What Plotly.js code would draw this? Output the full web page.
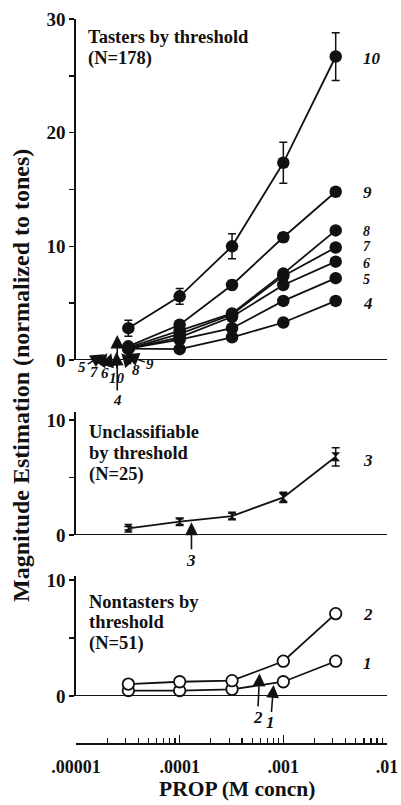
<!DOCTYPE html>
<html>
<head>
<meta charset="utf-8">
<script src="https://cdn.plot.ly/plotly-3.0.1.min.js"></script>
<style>html,body{margin:0;padding:0;background:#fff;}#chart{width:401px;height:805px;}</style>
</head>
<body>
<div id="chart"></div>
<script>
// ---- data ----
const conc = [3.2e-5, 1e-4, 3.2e-4, 1e-3, 3.2e-3];          // PROP molar concentrations
const xTickVals = [1e-5, 1e-4, 1e-3, 1e-2];
const xTickText = ['.00001', '.0001', '.001', '.01'];

// Tasters by threshold (N=178)
const g10 = [2.8, 5.6, 10.0, 17.35, 26.7];
const e10 = [0.7, 0.7, 1.1, 1.8, 2.1];
const g9  = [1.2, 3.1, 6.6, 10.8, 14.8];
const e9  = [0.2, 0.2, 0.4, 0.4, 0.2];
const g8  = [1.1, 2.6, 4.1, 7.6, 11.4];
const g7  = [1.0, 2.3, 4.0, 7.4, 9.9];
const g6  = [1.0, 2.0, 3.8, 6.6, 8.65];
const g5  = [1.0, 1.8, 2.8, 5.2, 7.2];
const g4  = [1.0, 0.95, 2.0, 3.3, 5.2];
const eSmall = [0.15, 0.2, 0.25, 0.3, 0.2];

// Unclassifiable by threshold (N=25)
const g3 = [0.58, 1.16, 1.65, 3.27, 6.8];
const e3 = [0.15, 0.25, 0.25, 0.45, 0.8];

// Nontasters by threshold (N=51)
const g2 = [1.03, 1.23, 1.32, 3.0, 7.1];
const e2 = [0.1, 0.1, 0.1, 0.2, 0.3];
const g1 = [0.46, 0.46, 0.58, 1.23, 3.0];
const e1 = [0.05, 0.05, 0.05, 0.1, 0.15];

// threshold arrows: group label, threshold concentration, arrow-head height
const topThrLabels = ['5', '7', '6', '10', '8', '9', '4'];
const topThrConc   = [1.87e-5, 2.0e-5, 2.19e-5, 2.45e-5, 2.74e-5, 2.99e-5, 2.5e-5];
const topThrHead   = [0.5, 0.6, 0.6, 0.7, 0.6, 0.5, 2.2];
const midThrLabels = ['3'];
const midThrConc   = [1.3e-4];
const midThrHead   = [1.1];
const botThrLabels = ['2', '1'];
const botThrConc   = [5.9e-4, 8.05e-4];
const botThrHead   = [1.95, 0.95];

// ---- drawing ----
const SERIF = "'Liberation Serif', 'Times New Roman', serif";
const black = '#111';
const L = 76, R = 14, T = 19, B = 62, W = 401, H = 805;
const PW = W - L - R, PH = H - T - B;
function px(x) { return (x - L) / PW; }
function py(y) { return (H - B - y) / PH; }

function tr(y, err, yaxis, marker) {
  const t = {
    x: conc, y: y, xaxis: 'x', yaxis: yaxis, type: 'scatter', mode: 'lines+markers',
    line: {color: black, width: 1.8}, marker: marker, cliponaxis: false, showlegend: false,
    hoverinfo: 'x+y'
  };
  if (err) t.error_y = {type: 'data', array: err, visible: true, color: black, thickness: 1.5, width: 4};
  return t;
}
const filled = {symbol: 'circle', size: 12.5, color: black};
const bow = {symbol: 'hourglass', size: 9, color: black};
const openFill = {symbol: 'circle', size: 11.5, color: '#fff', line: {width: 1.8, color: black}};

const data = [
  tr(g4, eSmall, 'y', filled), tr(g5, eSmall, 'y', filled), tr(g6, eSmall, 'y', filled),
  tr(g7, eSmall, 'y', filled), tr(g8, eSmall, 'y', filled), tr(g9, e9, 'y', filled),
  tr(g10, e10, 'y', filled),
  tr(g3, e3, 'y2', bow),
  tr(g1, e1, 'y3', openFill), tr(g2, e2, 'y3', openFill)
];

const ann = [];
function ptxt(text, x, y, opts) {
  ann.push(Object.assign({xref: 'paper', yref: 'paper', x: px(x), y: py(y), text: text, showarrow: false,
    xanchor: 'left', yanchor: 'middle', font: {family: SERIF, size: 18.5, color: black}}, opts || {}));
}
// panel titles
ptxt('<b>Tasters by threshold</b>', 86, 37);
ptxt('<b>(N=178)</b>', 86, 58);
ptxt('<b>Unclassifiable</b>', 87, 432);
ptxt('<b>by threshold</b>', 87, 453);
ptxt('<b>(N=25)</b>', 87, 475);
ptxt('<b>Nontasters by</b>', 87, 602);
ptxt('<b>threshold</b>', 87, 622);
ptxt('<b>(N=51)</b>', 87, 643);
// series end labels
const lblFont = {family: SERIF, size: 17, color: black};
const lblSmall = {family: SERIF, size: 14, color: black};
const endLbl = [['10', 58, lblFont], ['9', 192, lblFont], ['8', 231, lblSmall], ['7', 247, lblSmall],
                ['6', 263, lblSmall], ['5', 279, lblSmall], ['4', 303, lblFont],
                ['3', 460, lblFont], ['2', 614, lblFont], ['1', 663, lblFont]];
endLbl.forEach(function (d) { ptxt('<b><i>' + d[0] + '</i></b>', 361, d[1], {font: d[2]}); });

// axis titles
ann.push({xref: 'paper', yref: 'paper', x: px(21), y: py(376), text: '<b>Magnitude Estimation (normalized to tones)</b>',
  showarrow: false, textangle: -90, xanchor: 'center', yanchor: 'middle', font: {family: SERIF, size: 24, color: black}});
ann.push({xref: 'paper', yref: 'paper', x: px(237), y: py(789), text: '<b>PROP (M concn)</b>',
  showarrow: false, xanchor: 'center', yanchor: 'middle', font: {family: SERIF, size: 21.5, color: black}});

// threshold arrows (tail offsets in pixels)
const clusterFont = {family: SERIF, size: 15, color: black};
const topOff = [[-22, 13], [-13, 19], [-6, 20], [1, 26], [15, 17], [25, 10], [0, 65]];
function arrows(labels, concs, heads, yref, offs, font, size) {
  labels.forEach(function (lab, i) {
    ann.push({xref: 'x', yref: yref, x: Math.log10(concs[i]), y: heads[i], text: '<b><i>' + lab + '</i></b>',
      showarrow: true, arrowhead: 2, arrowsize: size, arrowwidth: 1.6, arrowcolor: black,
      ax: offs[i][0], ay: offs[i][1], standoff: 0, font: font});
  });
}
arrows(topThrLabels, topThrConc, topThrHead, 'y', topOff, clusterFont, 1.7);
arrows(midThrLabels, midThrConc, midThrHead, 'y2', [[0, 38]], lblFont, 1.6);
arrows(botThrLabels, botThrConc, botThrHead, 'y3', [[-2, 44], [-3, 38]], lblFont, 1.6);

// zero lines for each panel
const shapes = ['y', 'y2', 'y3'].map(function (yr) {
  return {type: 'line', xref: 'paper', x0: 0, x1: 1, yref: yr, y0: 0, y1: 0, line: {color: black, width: 1.8}};
});

const tickFont = {family: SERIF, size: 19, color: black};
function yax(domain, range, vals, text) {
  return {domain: domain, range: range, anchor: 'x', showline: true, linecolor: black, linewidth: 1.8,
    ticks: 'outside', ticklen: 5, tickwidth: 1.5, tickcolor: black, tickvals: vals, ticktext: text,
    tickfont: tickFont, showgrid: false, zeroline: false, fixedrange: true};
}
const minorVals = [];
[1e-5, 1e-4, 1e-3].forEach(function (d) { for (let k = 2; k <= 9; k++) minorVals.push(d * k); });

const layout = {
  width: W, height: H, margin: {l: L, r: R, t: T, b: B},
  paper_bgcolor: '#fff', plot_bgcolor: 'rgba(0,0,0,0)', showlegend: false,
  font: {family: SERIF, color: black},
  xaxis: {type: 'log', range: [-5, -2], anchor: 'free', position: 0, showline: true, linecolor: black, linewidth: 1.8,
    ticks: 'inside', ticklen: 8, tickwidth: 1.5, tickcolor: black, tickvals: xTickVals,
    ticktext: xTickText.map(function (t) { return '<b>' + t + '</b>'; }), ticklabelstandoff: 7,
    tickfont: {family: SERIF, size: 18, color: black}, showgrid: false, zeroline: false,
    minor: {tickvals: minorVals, ticks: 'inside', ticklen: 5, tickwidth: 1.2, tickcolor: black, showgrid: false}},
  yaxis: yax([py(360), 1], [0, 30], [0, 5, 10, 15, 20, 25, 30], ['<b>0</b>', '', '<b>10</b>', '', '<b>20</b>', '', '<b>30</b>']),
  yaxis2: yax([py(535), py(412)], [0, 10.7], [0, 5, 10], ['<b>0</b>', '', '<b>10</b>']),
  yaxis3: yax([py(696), py(576)], [0, 10.35], [0, 5, 10], ['<b>0</b>', '', '<b>10</b>']),
  annotations: ann,
  shapes: shapes
};

Plotly.newPlot('chart', data, layout, {displayModeBar: false, staticPlot: true});
</script>
</body>
</html>
